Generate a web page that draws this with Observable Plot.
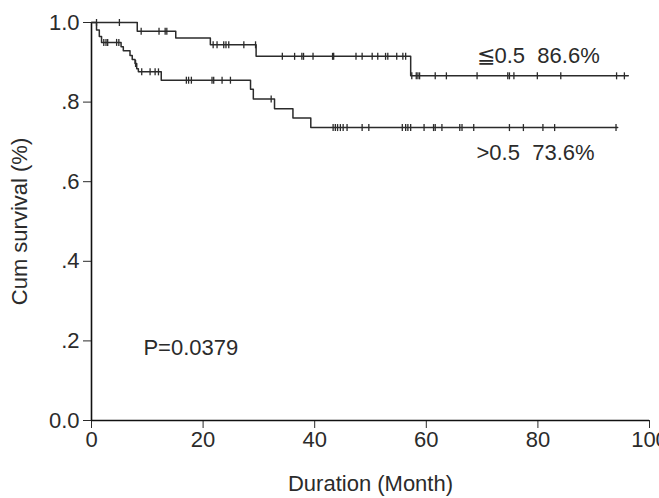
<!DOCTYPE html>
<html>
<head>
<meta charset="utf-8">
<script src="https://cdn.jsdelivr.net/npm/d3@7"></script>
<script src="https://cdn.jsdelivr.net/npm/@observablehq/plot@0.6"></script>
<style>
  html, body { margin: 0; padding: 0; background: #fff; overflow: hidden; }
  #chart { width: 659px; height: 498px; }
</style>
</head>
<body>
<div id="chart"></div>
<script>
// ---- data ----
const lowTimes = [0, 8.2, 15.1, 21.3, 29.5, 57.2, 96.2];
const lowSurv  = [1.0, 0.978, 0.961, 0.944, 0.915, 0.866, 0.866];
const lowCensor = [0.9, 5.0, 8.9, 12.1, 13.2, 13.5, 21.8, 22.5, 23.7, 24.1, 24.6, 27.3, 29.4,
  34.2, 36.4, 37.7, 38.0, 39.7, 43.2, 43.4, 47.4, 48.5, 50.3, 51.3, 52.7, 53.1, 54.7, 55.8, 56.3,
  57.4, 58.2, 58.5, 58.8, 61.6, 63.6, 69.1, 74.6, 74.9, 75.7, 79.9, 84.1, 94.1, 95.5];

const highTimes = [0, 0.9, 1.4, 1.8, 5.3, 5.7, 6.9, 7.3, 7.8, 8.1, 8.4, 12.5, 28.5, 29.0, 32.8, 36.1, 39.3, 94.3];
const highSurv  = [1.0, 0.981, 0.965, 0.950, 0.939, 0.929, 0.917, 0.907, 0.897, 0.884, 0.876, 0.855, 0.832, 0.808, 0.783, 0.760, 0.736, 0.736];
const highCensor = [2.2, 2.6, 2.9, 4.5, 4.9, 7.9, 9.0, 10.5, 11.4, 12.0, 17.0, 17.4, 17.9, 21.6, 21.9, 23.4, 24.9,
  32.2, 43.3, 43.7, 44.1, 44.6, 45.1, 45.8, 48.5, 49.7, 55.7, 56.3, 56.7, 57.2, 59.6, 61.3, 61.6, 62.8,
  66.0, 66.4, 68.5, 74.9, 77.4, 80.9, 83.0, 94.0];

const xTicks = [0, 20, 40, 60, 80, 100];
const yTicks = [0, 0.2, 0.4, 0.6, 0.8, 1.0];
const yTickLabels = ["0.0", ".2", ".4", ".6", ".8", "1.0"];

const labels = [
  {x: 69, y: 0.917, text: "\u22660.5  86.6%"},
  {x: 69, y: 0.672, text: ">0.5  73.6%"},
  {x: 9.3, y: 0.183, text: "P=0.0379"}
];

// ---- build tables ----
function steps(times, surv) { return times.map((t, i) => ({t, s: surv[i]})); }
function survAt(times, surv, t) {
  let s = surv[0];
  for (let i = 0; i < times.length; i++) if (times[i] <= t) s = surv[i];
  return s;
}
const lowSteps = steps(lowTimes, lowSurv);
const highSteps = steps(highTimes, highSurv);
const lowMarks = lowCensor.map(t => ({t, s: survAt(lowTimes, lowSurv, t)}));
const highMarks = highCensor.map(t => ({t, s: survAt(highTimes, highSurv, t)}));

const vtick = {
  draw(ctx, size) {
    const r = Math.sqrt(size / Math.PI);
    ctx.moveTo(0, -r);
    ctx.lineTo(0, r);
  }
};

const ink = "#2b2b2b";

const chart = Plot.plot({
  width: 659,
  height: 498,
  marginLeft: 91,
  marginRight: 10,
  marginTop: 22,
  marginBottom: 78,
  style: {fontFamily: "Liberation Sans, Arial, sans-serif", fontSize: "22px", color: ink, background: "#fff", overflow: "visible"},
  x: {domain: [0, 100], ticks: xTicks, tickSize: 8, tickPadding: 3, label: "Duration (Month)", labelArrow: "none", labelAnchor: "center", labelOffset: 70},
  y: {domain: [0, 1], ticks: yTicks, tickSize: 8, tickPadding: 4, tickFormat: (d) => yTickLabels[yTicks.indexOf(d)], label: "Cum survival (%)", labelArrow: "none", labelAnchor: "center", labelOffset: 80},
  marks: [
    Plot.ruleX([0], {stroke: "#111", strokeWidth: 1.6}),
    Plot.ruleY([0], {stroke: "#111", strokeWidth: 1.6}),
    Plot.line(lowSteps, {x: "t", y: "s", curve: "step-after", stroke: ink, strokeWidth: 1.5}),
    Plot.line(highSteps, {x: "t", y: "s", curve: "step-after", stroke: ink, strokeWidth: 1.5}),
    Plot.dot(lowMarks, {x: "t", y: "s", r: 3.5, symbol: vtick, stroke: ink, strokeWidth: 1.3, fill: "none"}),
    Plot.dot(highMarks, {x: "t", y: "s", r: 3.5, symbol: vtick, stroke: ink, strokeWidth: 1.3, fill: "none"}),
    Plot.text(labels, {x: "x", y: "y", text: "text", textAnchor: "start", fontSize: 22, fill: ink})
  ]
});
document.getElementById("chart").appendChild(chart);
</script>
</body>
</html>
